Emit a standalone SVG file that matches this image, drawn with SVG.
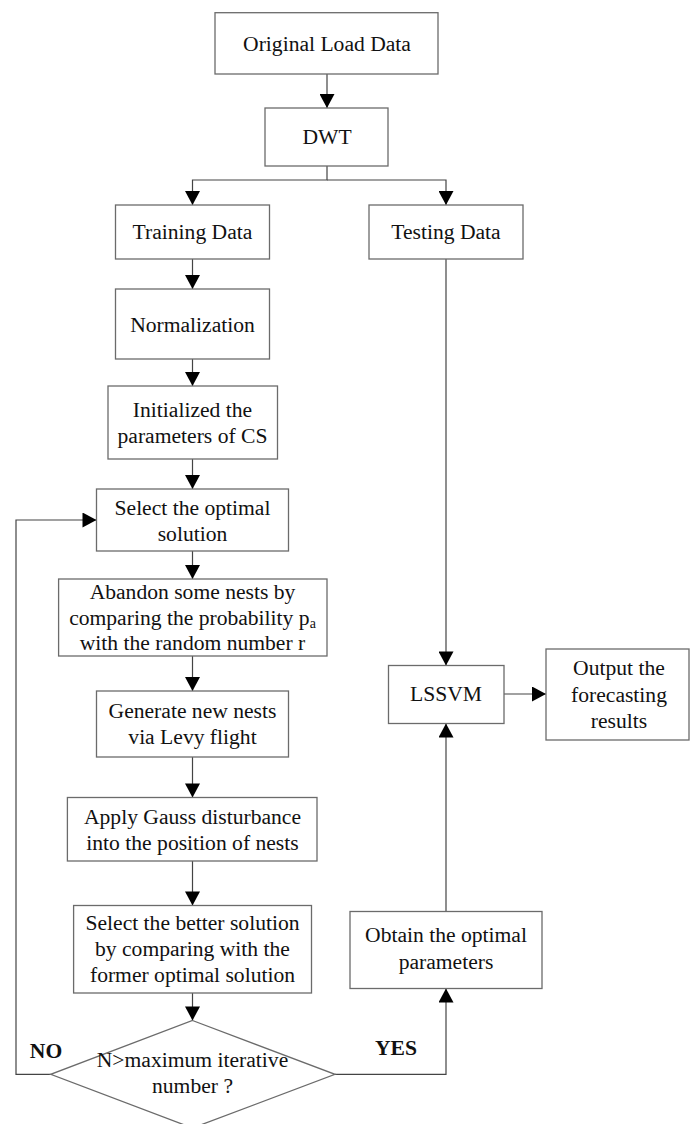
<svg xmlns="http://www.w3.org/2000/svg" width="691" height="1124" viewBox="0 0 691 1124">
<style>
.box{fill:#fff;stroke:#6b6b6b;stroke-width:1.3}
.ln{fill:none;stroke:#444;stroke-width:1.2}
text{font-family:"Liberation Serif","Times New Roman",serif;font-size:21.6px;fill:#111;text-anchor:middle}
.b{font-weight:bold}
</style>
<defs>
<marker id="ah" markerWidth="15" markerHeight="15" viewBox="0 0 14 15" refX="14" refY="7.5" orient="auto" markerUnits="userSpaceOnUse">
<path d="M0,0 L14,7.5 L0,15 Z" fill="#000"/>
</marker>
</defs>
<g id="connectors">
<path class="ln" d="M327,74 V108" marker-end="url(#ah)"/>
<path class="ln" d="M327,166 V180 H192.5 V205" marker-end="url(#ah)"/>
<path class="ln" d="M327,180 H446 V205" marker-end="url(#ah)"/>
<path class="ln" d="M192.5,259 V289" marker-end="url(#ah)"/>
<path class="ln" d="M192.5,359 V386" marker-end="url(#ah)"/>
<path class="ln" d="M192.5,459 V489" marker-end="url(#ah)"/>
<path class="ln" d="M192.5,551 V579" marker-end="url(#ah)"/>
<path class="ln" d="M192.5,656 V691" marker-end="url(#ah)"/>
<path class="ln" d="M192.5,757 V797.5" marker-end="url(#ah)"/>
<path class="ln" d="M192.5,861 V905.5" marker-end="url(#ah)"/>
<path class="ln" d="M192.5,993 V1020.5" marker-end="url(#ah)"/>
<path class="ln" d="M446,259 V665.5" marker-end="url(#ah)"/>
<path class="ln" d="M504,694 H546" marker-end="url(#ah)"/>
<path class="ln" d="M446,911.5 V723.5" marker-end="url(#ah)"/>
<path class="ln" d="M335,1074.3 H446 V988.5" marker-end="url(#ah)"/>
<path class="ln" d="M50.7,1074.3 H16 V520 H96.5" marker-end="url(#ah)"/>
</g>
<g id="n-original"><rect class="box" x="215" y="12.7" width="223" height="61.3"/><text x="327" y="50.5">Original Load Data</text></g>
<g id="n-dwt"><rect class="box" x="265" y="108" width="123" height="58"/><text x="327" y="144">DWT</text></g>
<g id="n-training"><rect class="box" x="115.5" y="205" width="154" height="54"/><text x="192.5" y="239">Training Data</text></g>
<g id="n-testing"><rect class="box" x="369" y="205" width="154" height="54"/><text x="446" y="239">Testing Data</text></g>
<g id="n-normalization"><rect class="box" x="115.5" y="289" width="154" height="70"/><text x="192.5" y="331.5">Normalization</text></g>
<g id="n-init"><rect class="box" x="108" y="386" width="169.5" height="73"/><text x="192.5" y="416.5">Initialized the</text><text x="192.5" y="442.5">parameters of CS</text></g>
<g id="n-select"><rect class="box" x="96.5" y="489" width="192" height="62"/><text x="192.5" y="515">Select the optimal</text><text x="192.5" y="540.5">solution</text></g>
<g id="n-abandon"><rect class="box" x="58.6" y="579" width="268.4" height="77"/><text x="192.5" y="598.5">Abandon some nests by</text><text x="192.5" y="624.5">comparing the probability p<tspan font-size="14" dy="3">a</tspan></text><text x="192.5" y="650">with the random number r</text></g>
<g id="n-generate"><rect class="box" x="96.5" y="691" width="192" height="66"/><text x="192.5" y="717.5">Generate new nests</text><text x="192.5" y="743.5">via Levy flight</text></g>
<g id="n-apply"><rect class="box" x="67.4" y="797.5" width="249.6" height="63.5"/><text x="192.5" y="823.5">Apply Gauss disturbance</text><text x="192.5" y="849.5">into the position of nests</text></g>
<g id="n-better"><rect class="box" x="73.6" y="905.5" width="237.9" height="87.5"/><text x="192.5" y="930">Select the better solution</text><text x="192.5" y="956">by comparing with the</text><text x="192.5" y="981.7">former optimal solution</text></g>
<g id="n-decision"><polygon class="box" points="192.5,1020.5 335,1074.3 192.5,1128 50.7,1074.3"/><text x="192.5" y="1066.7">N&gt;maximum iterative</text><text x="192.5" y="1093">number ?</text></g>
<text class="b" x="46" y="1058.3">NO</text>
<text class="b" x="396" y="1055">YES</text>
<g id="n-obtain"><rect class="box" x="350" y="911.5" width="192" height="77"/><text x="446" y="942.3">Obtain the optimal</text><text x="446" y="969.3">parameters</text></g>
<g id="n-lssvm"><rect class="box" x="388.5" y="665.5" width="115.5" height="58"/><text x="446" y="701">LSSVM</text></g>
<g id="n-output"><rect class="box" x="546" y="649" width="143" height="91"/><text x="619" y="675">Output the</text><text x="619" y="701.5">forecasting</text><text x="619" y="727.5">results</text></g>
</svg>
